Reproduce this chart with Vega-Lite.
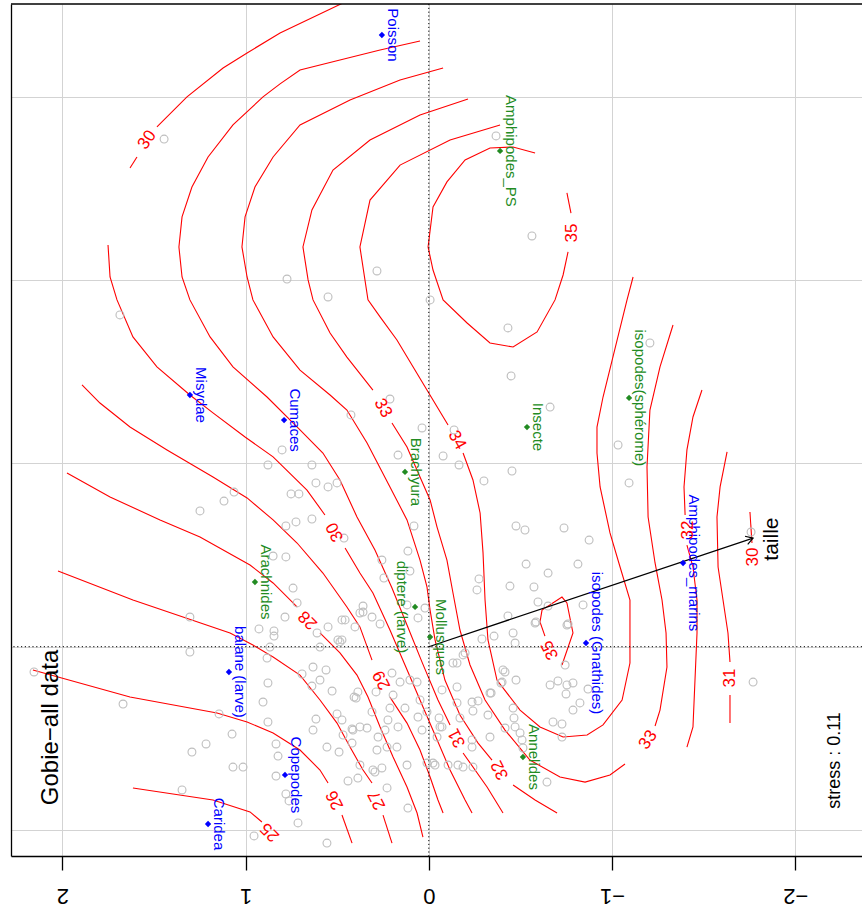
{
"$schema":"https://vega.github.io/schema/vega-lite/v6.json",
"width":851,"height":852,
"autosize":{"type":"none"},
"padding":{"left":11,"top":4,"right":0,"bottom":61},
"background":"white",
"config":{"view":{"stroke":null},"font":"Liberation Sans",
 "axisX":{"grid":true,"gridColor":"#d3d3d3","gridWidth":1,"domain":true,"domainColor":"#000000","domainWidth":1.3,"ticks":true,"tickSize":14,"tickColor":"#000000","tickWidth":1.3,"labelAngle":180,"labelAlign":"center","labelBaseline":"alphabetic","labelPadding":18,"labelFontSize":22,"labelFont":"Liberation Sans","labelColor":"#000000","labelFlush":false,"labelOverlap":false,"tickCount":5},
 "axisY":{"grid":true,"gridColor":"#d3d3d3","gridWidth":1,"domain":true,"domainColor":"#000000","domainWidth":1.3,"ticks":false,"labels":false,"tickCount":5}},
"datasets":{
"isolignes":[
{"niveau":25,"s":"25a","i":0,"x":1.615,"y":-0.771},{"niveau":25,"s":"25a","i":1,"x":1.178,"y":-0.837},{"niveau":25,"s":"25a","i":2,"x":0.976,"y":-0.902},{"niveau":25,"s":"25a","i":3,"x":0.911,"y":-0.957},
{"niveau":26,"s":"26a","i":0,"x":2.161,"y":-0.127},{"niveau":26,"s":"26a","i":1,"x":1.631,"y":-0.275},{"niveau":26,"s":"26a","i":2,"x":1.156,"y":-0.362},{"niveau":26,"s":"26a","i":3,"x":0.992,"y":-0.411},{"niveau":26,"s":"26a","i":4,"x":0.850,"y":-0.471},{"niveau":26,"s":"26a","i":5,"x":0.703,"y":-0.564},{"niveau":26,"s":"26a","i":6,"x":0.594,"y":-0.673},{"niveau":26,"s":"26a","i":7,"x":0.550,"y":-0.744},
{"niveau":26,"s":"26b","i":0,"x":0.474,"y":-0.919},{"niveau":26,"s":"26b","i":1,"x":0.419,"y":-1.072},
{"niveau":27,"s":"27a","i":0,"x":2.024,"y":0.413},{"niveau":27,"s":"27a","i":1,"x":1.615,"y":0.255},{"niveau":27,"s":"27a","i":2,"x":1.085,"y":0.075},{"niveau":27,"s":"27a","i":3,"x":0.960,"y":0.009},{"niveau":27,"s":"27a","i":4,"x":0.850,"y":-0.056},{"niveau":27,"s":"27a","i":5,"x":0.703,"y":-0.155},{"niveau":27,"s":"27a","i":6,"x":0.594,"y":-0.291},{"niveau":27,"s":"27a","i":7,"x":0.501,"y":-0.417},{"niveau":27,"s":"27a","i":8,"x":0.430,"y":-0.548},{"niveau":27,"s":"27a","i":9,"x":0.359,"y":-0.673},{"niveau":27,"s":"27a","i":10,"x":0.310,"y":-0.744},
{"niveau":27,"s":"27b","i":0,"x":0.250,"y":-0.919},{"niveau":27,"s":"27b","i":1,"x":0.201,"y":-1.072},
{"niveau":28,"s":"28a","i":0,"x":1.975,"y":0.948},{"niveau":28,"s":"28a","i":1,"x":1.740,"y":0.817},{"niveau":28,"s":"28a","i":2,"x":1.467,"y":0.692},{"niveau":28,"s":"28a","i":3,"x":1.249,"y":0.599},{"niveau":28,"s":"28a","i":4,"x":0.976,"y":0.446},{"niveau":28,"s":"28a","i":5,"x":0.850,"y":0.348},{"niveau":28,"s":"28a","i":6,"x":0.719,"y":0.217},
{"niveau":28,"s":"28b","i":0,"x":0.594,"y":0.075},{"niveau":28,"s":"28b","i":1,"x":0.485,"y":-0.034},{"niveau":28,"s":"28b","i":2,"x":0.392,"y":-0.155},{"niveau":28,"s":"28b","i":3,"x":0.332,"y":-0.275},{"niveau":28,"s":"28b","i":4,"x":0.266,"y":-0.438},{"niveau":28,"s":"28b","i":5,"x":0.195,"y":-0.602},{"niveau":28,"s":"28b","i":6,"x":0.119,"y":-0.766},{"niveau":28,"s":"28b","i":7,"x":0.064,"y":-0.908},{"niveau":28,"s":"28b","i":8,"x":0.032,"y":-1.039},
{"niveau":29,"s":"29a","i":0,"x":1.893,"y":1.429},{"niveau":29,"s":"29a","i":1,"x":1.795,"y":1.330},{"niveau":29,"s":"29a","i":2,"x":1.631,"y":1.199},{"niveau":29,"s":"29a","i":3,"x":1.429,"y":1.074},{"niveau":29,"s":"29a","i":4,"x":1.178,"y":0.926},{"niveau":29,"s":"29a","i":5,"x":0.992,"y":0.812},{"niveau":29,"s":"29a","i":6,"x":0.850,"y":0.692},{"niveau":29,"s":"29a","i":7,"x":0.719,"y":0.566},{"niveau":29,"s":"29a","i":8,"x":0.578,"y":0.402},{"niveau":29,"s":"29a","i":9,"x":0.447,"y":0.217},{"niveau":29,"s":"29a","i":10,"x":0.376,"y":0.108},{"niveau":29,"s":"29a","i":11,"x":0.310,"y":-0.073},
{"niveau":29,"s":"29b","i":0,"x":0.212,"y":-0.275},{"niveau":29,"s":"29b","i":1,"x":0.119,"y":-0.417},{"niveau":29,"s":"29b","i":2,"x":0.048,"y":-0.564},{"niveau":29,"s":"29b","i":3,"x":-0.007,"y":-0.711},{"niveau":29,"s":"29b","i":4,"x":-0.050,"y":-0.837},{"niveau":29,"s":"29b","i":5,"x":-0.078,"y":-0.908},
{"niveau":30,"s":"30a","i":0,"x":0.468,"y":3.514},{"niveau":30,"s":"30a","i":1,"x":0.812,"y":3.350},{"niveau":30,"s":"30a","i":2,"x":0.992,"y":3.241},{"niveau":30,"s":"30a","i":3,"x":1.123,"y":3.159},{"niveau":30,"s":"30a","i":4,"x":1.320,"y":3.001},{"niveau":30,"s":"30a","i":5,"x":1.484,"y":2.837},
{"niveau":30,"s":"30b","i":0,"x":1.593,"y":2.673},{"niveau":30,"s":"30b","i":1,"x":1.631,"y":2.613},
{"niveau":30,"s":"30c","i":0,"x":1.751,"y":2.193},{"niveau":30,"s":"30c","i":1,"x":1.740,"y":2.018},{"niveau":30,"s":"30c","i":2,"x":1.702,"y":1.893},{"niveau":30,"s":"30c","i":3,"x":1.615,"y":1.691},{"niveau":30,"s":"30c","i":4,"x":1.484,"y":1.527},{"niveau":30,"s":"30c","i":5,"x":1.304,"y":1.374},{"niveau":30,"s":"30c","i":6,"x":1.178,"y":1.276},{"niveau":30,"s":"30c","i":7,"x":1.003,"y":1.145},{"niveau":30,"s":"30c","i":8,"x":0.850,"y":1.036},{"niveau":30,"s":"30c","i":9,"x":0.665,"y":0.855},{"niveau":30,"s":"30c","i":10,"x":0.567,"y":0.719},
{"niveau":30,"s":"30d","i":0,"x":0.457,"y":0.539},{"niveau":30,"s":"30d","i":1,"x":0.376,"y":0.402},{"niveau":30,"s":"30d","i":2,"x":0.305,"y":0.293},{"niveau":30,"s":"30d","i":3,"x":0.212,"y":0.091},{"niveau":30,"s":"30d","i":4,"x":0.130,"y":-0.100},{"niveau":30,"s":"30d","i":5,"x":0.048,"y":-0.291},{"niveau":30,"s":"30d","i":6,"x":-0.034,"y":-0.482},{"niveau":30,"s":"30d","i":7,"x":-0.116,"y":-0.673},{"niveau":30,"s":"30d","i":8,"x":-0.198,"y":-0.837},{"niveau":30,"s":"30d","i":9,"x":-0.236,"y":-0.908},
{"niveau":30,"s":"30e","i":0,"x":-1.753,"y":0.735},{"niveau":30,"s":"30e","i":1,"x":-1.764,"y":0.566},
{"niveau":31,"s":"31a","i":0,"x":0.048,"y":3.306},{"niveau":31,"s":"31a","i":1,"x":0.266,"y":3.257},{"niveau":31,"s":"31a","i":2,"x":0.485,"y":3.203},{"niveau":31,"s":"31a","i":3,"x":0.703,"y":3.148},{"niveau":31,"s":"31a","i":4,"x":0.812,"y":3.072},{"niveau":31,"s":"31a","i":5,"x":0.905,"y":3.001},{"niveau":31,"s":"31a","i":6,"x":1.069,"y":2.848},{"niveau":31,"s":"31a","i":7,"x":1.205,"y":2.673},{"niveau":31,"s":"31a","i":8,"x":1.293,"y":2.509},{"niveau":31,"s":"31a","i":9,"x":1.347,"y":2.346},{"niveau":31,"s":"31a","i":10,"x":1.364,"y":2.182},{"niveau":31,"s":"31a","i":11,"x":1.347,"y":2.018},{"niveau":31,"s":"31a","i":12,"x":1.304,"y":1.893},{"niveau":31,"s":"31a","i":13,"x":1.194,"y":1.691},{"niveau":31,"s":"31a","i":14,"x":1.069,"y":1.527},{"niveau":31,"s":"31a","i":15,"x":0.883,"y":1.363},{"niveau":31,"s":"31a","i":16,"x":0.703,"y":1.183},{"niveau":31,"s":"31a","i":17,"x":0.578,"y":1.057},{"niveau":31,"s":"31a","i":18,"x":0.485,"y":0.910},{"niveau":31,"s":"31a","i":19,"x":0.392,"y":0.708},{"niveau":31,"s":"31a","i":20,"x":0.294,"y":0.528},{"niveau":31,"s":"31a","i":21,"x":0.201,"y":0.320},{"niveau":31,"s":"31a","i":22,"x":0.119,"y":0.118},{"niveau":31,"s":"31a","i":23,"x":0.037,"y":-0.084},{"niveau":31,"s":"31a","i":24,"x":-0.050,"y":-0.291},{"niveau":31,"s":"31a","i":25,"x":-0.116,"y":-0.427},
{"niveau":31,"s":"31b","i":0,"x":-0.187,"y":-0.580},{"niveau":31,"s":"31b","i":1,"x":-0.318,"y":-0.766},{"niveau":31,"s":"31b","i":2,"x":-0.405,"y":-0.908},
{"niveau":31,"s":"31c","i":0,"x":-1.628,"y":1.063},{"niveau":31,"s":"31c","i":1,"x":-1.590,"y":0.872},{"niveau":31,"s":"31c","i":2,"x":-1.573,"y":0.708},{"niveau":31,"s":"31c","i":3,"x":-1.579,"y":0.435},{"niveau":31,"s":"31c","i":4,"x":-1.606,"y":0.255},{"niveau":31,"s":"31c","i":5,"x":-1.633,"y":0.075},{"niveau":31,"s":"31c","i":6,"x":-1.644,"y":-0.084},
{"niveau":31,"s":"31d","i":0,"x":-1.644,"y":-0.264},{"niveau":31,"s":"31d","i":1,"x":-1.644,"y":-0.417},
{"niveau":32,"s":"32a","i":0,"x":-0.078,"y":3.159},{"niveau":32,"s":"32a","i":1,"x":0.157,"y":3.093},{"niveau":32,"s":"32a","i":2,"x":0.430,"y":2.984},{"niveau":32,"s":"32a","i":3,"x":0.703,"y":2.848},{"niveau":32,"s":"32a","i":4,"x":0.850,"y":2.673},{"niveau":32,"s":"32a","i":5,"x":0.949,"y":2.509},{"niveau":32,"s":"32a","i":6,"x":1.003,"y":2.346},{"niveau":32,"s":"32a","i":7,"x":1.020,"y":2.182},{"niveau":32,"s":"32a","i":8,"x":0.992,"y":2.018},{"niveau":32,"s":"32a","i":9,"x":0.960,"y":1.893},{"niveau":32,"s":"32a","i":10,"x":0.850,"y":1.691},{"niveau":32,"s":"32a","i":11,"x":0.703,"y":1.510},{"niveau":32,"s":"32a","i":12,"x":0.539,"y":1.374},{"niveau":32,"s":"32a","i":13,"x":0.447,"y":1.292},{"niveau":32,"s":"32a","i":14,"x":0.337,"y":1.112},{"niveau":32,"s":"32a","i":15,"x":0.212,"y":0.872},{"niveau":32,"s":"32a","i":16,"x":0.119,"y":0.692},{"niveau":32,"s":"32a","i":17,"x":0.048,"y":0.473},{"niveau":32,"s":"32a","i":18,"x":0.010,"y":0.326},{"niveau":32,"s":"32a","i":19,"x":-0.007,"y":0.200},{"niveau":32,"s":"32a","i":20,"x":-0.034,"y":0.037},{"niveau":32,"s":"32a","i":21,"x":-0.088,"y":-0.182},{"niveau":32,"s":"32a","i":22,"x":-0.170,"y":-0.373},{"niveau":32,"s":"32a","i":23,"x":-0.269,"y":-0.526},{"niveau":32,"s":"32a","i":24,"x":-0.345,"y":-0.619},
{"niveau":32,"s":"32b","i":0,"x":-0.460,"y":-0.755},{"niveau":32,"s":"32b","i":1,"x":-0.580,"y":-0.837},{"niveau":32,"s":"32b","i":2,"x":-0.700,"y":-0.908},
{"niveau":32,"s":"32c","i":0,"x":-1.491,"y":1.401},{"niveau":32,"s":"32c","i":1,"x":-1.442,"y":1.254},{"niveau":32,"s":"32c","i":2,"x":-1.409,"y":1.074},{"niveau":32,"s":"32c","i":3,"x":-1.393,"y":0.872},{"niveau":32,"s":"32c","i":4,"x":-1.399,"y":0.719},
{"niveau":32,"s":"32d","i":0,"x":-1.409,"y":0.555},{"niveau":32,"s":"32d","i":1,"x":-1.442,"y":0.435},{"niveau":32,"s":"32d","i":2,"x":-1.464,"y":0.255},{"niveau":32,"s":"32d","i":3,"x":-1.464,"y":0.075},{"niveau":32,"s":"32d","i":4,"x":-1.442,"y":-0.438},{"niveau":32,"s":"32d","i":5,"x":-1.409,"y":-0.548},
{"niveau":33,"s":"33a","i":0,"x":-0.214,"y":2.990},{"niveau":33,"s":"33a","i":1,"x":0.048,"y":2.902},{"niveau":33,"s":"33a","i":2,"x":0.321,"y":2.766},{"niveau":33,"s":"33a","i":3,"x":0.523,"y":2.602},{"niveau":33,"s":"33a","i":4,"x":0.638,"y":2.384},{"niveau":33,"s":"33a","i":5,"x":0.687,"y":2.182},{"niveau":33,"s":"33a","i":6,"x":0.659,"y":2.002},{"niveau":33,"s":"33a","i":7,"x":0.632,"y":1.893},{"niveau":33,"s":"33a","i":8,"x":0.539,"y":1.712},{"niveau":33,"s":"33a","i":9,"x":0.447,"y":1.581},{"niveau":33,"s":"33a","i":10,"x":0.305,"y":1.401},
{"niveau":33,"s":"33b","i":0,"x":0.201,"y":1.221},{"niveau":33,"s":"33b","i":1,"x":0.119,"y":1.090},{"niveau":33,"s":"33b","i":2,"x":0.048,"y":0.926},{"niveau":33,"s":"33b","i":3,"x":-0.007,"y":0.801},{"niveau":33,"s":"33b","i":4,"x":-0.045,"y":0.653},{"niveau":33,"s":"33b","i":5,"x":-0.099,"y":0.473},{"niveau":33,"s":"33b","i":6,"x":-0.132,"y":0.293},{"niveau":33,"s":"33b","i":7,"x":-0.170,"y":0.091},{"niveau":33,"s":"33b","i":8,"x":-0.225,"y":-0.100},{"niveau":33,"s":"33b","i":9,"x":-0.307,"y":-0.291},{"niveau":33,"s":"33b","i":10,"x":-0.416,"y":-0.455},{"niveau":33,"s":"33b","i":11,"x":-0.552,"y":-0.619},{"niveau":33,"s":"33b","i":12,"x":-0.716,"y":-0.711},{"niveau":33,"s":"33b","i":13,"x":-0.853,"y":-0.739},{"niveau":33,"s":"33b","i":14,"x":-0.989,"y":-0.700},{"niveau":33,"s":"33b","i":15,"x":-1.071,"y":-0.640},
{"niveau":33,"s":"33c","i":0,"x":-1.235,"y":-0.433},{"niveau":33,"s":"33c","i":1,"x":-1.262,"y":-0.346},{"niveau":33,"s":"33c","i":2,"x":-1.300,"y":-0.111},{"niveau":33,"s":"33c","i":3,"x":-1.295,"y":0.075},{"niveau":33,"s":"33c","i":4,"x":-1.273,"y":0.255},{"niveau":33,"s":"33c","i":5,"x":-1.235,"y":0.457},{"niveau":33,"s":"33c","i":6,"x":-1.197,"y":0.708},{"niveau":33,"s":"33c","i":7,"x":-1.191,"y":0.981},{"niveau":33,"s":"33c","i":8,"x":-1.207,"y":1.292},{"niveau":33,"s":"33c","i":9,"x":-1.262,"y":1.527},{"niveau":33,"s":"33c","i":10,"x":-1.333,"y":1.756},
{"niveau":34,"s":"34a","i":0,"x":-0.389,"y":2.848},{"niveau":34,"s":"34a","i":1,"x":-0.116,"y":2.766},{"niveau":34,"s":"34a","i":2,"x":0.157,"y":2.629},{"niveau":34,"s":"34a","i":3,"x":0.321,"y":2.438},{"niveau":34,"s":"34a","i":4,"x":0.376,"y":2.182},{"niveau":34,"s":"34a","i":5,"x":0.332,"y":1.893},{"niveau":34,"s":"34a","i":6,"x":0.266,"y":1.800},{"niveau":34,"s":"34a","i":7,"x":0.174,"y":1.674},{"niveau":34,"s":"34a","i":8,"x":0.010,"y":1.401},{"niveau":34,"s":"34a","i":9,"x":-0.105,"y":1.210},
{"niveau":34,"s":"34b","i":0,"x":-0.187,"y":1.057},{"niveau":34,"s":"34b","i":1,"x":-0.241,"y":0.910},{"niveau":34,"s":"34b","i":2,"x":-0.280,"y":0.730},{"niveau":34,"s":"34b","i":3,"x":-0.296,"y":0.512},{"niveau":34,"s":"34b","i":4,"x":-0.307,"y":0.255},{"niveau":34,"s":"34b","i":5,"x":-0.323,"y":0.037},{"niveau":34,"s":"34b","i":6,"x":-0.372,"y":-0.182},{"niveau":34,"s":"34b","i":7,"x":-0.498,"y":-0.346},{"niveau":34,"s":"34b","i":8,"x":-0.607,"y":-0.438},{"niveau":34,"s":"34b","i":9,"x":-0.733,"y":-0.493},{"niveau":34,"s":"34b","i":10,"x":-0.864,"y":-0.482},{"niveau":34,"s":"34b","i":11,"x":-0.951,"y":-0.427},{"niveau":34,"s":"34b","i":12,"x":-1.055,"y":-0.291},{"niveau":34,"s":"34b","i":13,"x":-1.098,"y":-0.089},{"niveau":34,"s":"34b","i":14,"x":-1.098,"y":0.255},{"niveau":34,"s":"34b","i":15,"x":-1.044,"y":0.435},{"niveau":34,"s":"34b","i":16,"x":-0.989,"y":0.621},{"niveau":34,"s":"34b","i":17,"x":-0.935,"y":0.872},{"niveau":34,"s":"34b","i":18,"x":-0.918,"y":1.057},{"niveau":34,"s":"34b","i":19,"x":-0.918,"y":1.199},{"niveau":34,"s":"34b","i":20,"x":-0.951,"y":1.363},{"niveau":34,"s":"34b","i":21,"x":-1.082,"y":1.893},{"niveau":34,"s":"34b","i":22,"x":-1.115,"y":2.018},
{"niveau":35,"s":"35a","i":0,"x":-0.580,"y":2.695},{"niveau":35,"s":"35a","i":1,"x":-0.460,"y":2.728},{"niveau":35,"s":"35a","i":2,"x":-0.334,"y":2.722},{"niveau":35,"s":"35a","i":3,"x":-0.198,"y":2.657},{"niveau":35,"s":"35a","i":4,"x":-0.099,"y":2.537},{"niveau":35,"s":"35a","i":5,"x":-0.023,"y":2.400},{"niveau":35,"s":"35a","i":6,"x":0.004,"y":2.182},{"niveau":35,"s":"35a","i":7,"x":-0.023,"y":2.056},{"niveau":35,"s":"35a","i":8,"x":-0.078,"y":1.893},{"niveau":35,"s":"35a","i":9,"x":-0.209,"y":1.767},{"niveau":35,"s":"35a","i":10,"x":-0.334,"y":1.658},{"niveau":35,"s":"35a","i":11,"x":-0.460,"y":1.636},{"niveau":35,"s":"35a","i":12,"x":-0.591,"y":1.718},{"niveau":35,"s":"35a","i":13,"x":-0.689,"y":1.893},{"niveau":35,"s":"35a","i":14,"x":-0.733,"y":2.029},{"niveau":35,"s":"35a","i":15,"x":-0.760,"y":2.155},
{"niveau":35,"s":"35b","i":0,"x":-0.776,"y":2.367},{"niveau":35,"s":"35b","i":1,"x":-0.754,"y":2.477},
{"niveau":35,"s":"35c","i":0,"x":-0.634,"y":0.058},{"niveau":35,"s":"35c","i":1,"x":-0.607,"y":0.135},{"niveau":35,"s":"35c","i":2,"x":-0.618,"y":0.200},{"niveau":35,"s":"35c","i":3,"x":-0.727,"y":0.271},{"niveau":35,"s":"35c","i":4,"x":-0.754,"y":0.239},{"niveau":35,"s":"35c","i":5,"x":-0.787,"y":0.075},{"niveau":35,"s":"35c","i":6,"x":-0.727,"y":-0.100}
],
"etiquettes":[
{"niveau":30,"x":1.538,"y":2.766},{"niveau":35,"x":-0.782,"y":2.258},{"niveau":33,"x":0.250,"y":1.303},{"niveau":34,"x":-0.154,"y":1.128},{"niveau":30,"x":0.512,"y":0.626},{"niveau":28,"x":0.659,"y":0.146},{"niveau":29,"x":0.256,"y":-0.182},{"niveau":31,"x":-0.154,"y":-0.498},{"niveau":32,"x":-0.389,"y":-0.673},{"niveau":26,"x":0.512,"y":-0.837},{"niveau":27,"x":0.283,"y":-0.837},{"niveau":25,"x":0.867,"y":-1.012},{"niveau":35,"x":-0.662,"y":-0.018},{"niveau":32,"x":-1.415,"y":0.637},{"niveau":30,"x":-1.770,"y":0.490},{"niveau":31,"x":-1.644,"y":-0.171},{"niveau":33,"x":-1.197,"y":-0.509}
],
"especes":[
{"nom":"Poisson","groupe":"A","x":0.256,"y":3.339},{"nom":"Misydae","groupe":"A","x":1.304,"y":1.374},{"nom":"Cumaces","groupe":"A","x":0.790,"y":1.237},{"nom":"balane (larve)","groupe":"A","x":1.091,"y":-0.138},{"nom":"Copepodes","groupe":"A","x":0.785,"y":-0.700},{"nom":"Caridea","groupe":"A","x":1.205,"y":-0.968},{"nom":"isopodes (Gnathides)","groupe":"A","x":-0.858,"y":0.020},{"nom":"Amphipodes_marins","groupe":"A","x":-1.388,"y":0.457},
{"nom":"Amphipodes_PS","groupe":"B","x":-0.389,"y":2.706},{"nom":"Arachnides","groupe":"B","x":0.949,"y":0.353},{"nom":"diptere (larve)","groupe":"B","x":0.075,"y":0.217},{"nom":"Mollusques","groupe":"B","x":-0.007,"y":0.053},{"nom":"Brachyura","groupe":"B","x":0.130,"y":0.954},{"nom":"Insecte","groupe":"B","x":-0.536,"y":1.199},{"nom":"isopodes(sphérome)","groupe":"B","x":-1.093,"y":1.358},{"nom":"Annelides","groupe":"B","x":-0.514,"y":-0.602}
],
"sites":[
{"x":1.445,"y":2.771},{"x":0.774,"y":2.007},{"x":-0.367,"y":2.788},{"x":-0.563,"y":2.242},{"x":0.283,"y":2.051},{"x":0.550,"y":1.909},{"x":-0.007,"y":1.893},{"x":1.686,"y":1.811},{"x":-0.432,"y":1.740},{"x":-0.449,"y":1.478},{"x":0.212,"y":1.352},{"x":0.425,"y":1.265},{"x":0.037,"y":1.194},{"x":-0.662,"y":1.308},{"x":-0.138,"y":1.183},{"x":0.801,"y":1.074},{"x":0.878,"y":0.992},{"x":1.063,"y":0.844},{"x":1.118,"y":0.795},{"x":1.249,"y":0.741},{"x":0.752,"y":0.834},{"x":0.709,"y":0.834},{"x":0.780,"y":0.659},{"x":0.725,"y":0.681},{"x":0.638,"y":0.697},{"x":0.850,"y":0.495},{"x":0.780,"y":0.490},{"x":0.741,"y":0.320},{"x":0.168,"y":1.046},{"x":-0.078,"y":1.041},{"x":-0.165,"y":0.992},{"x":0.638,"y":0.992},{"x":-0.454,"y":0.959},{"x":-0.301,"y":0.905},{"x":0.616,"y":0.894},{"x":0.550,"y":0.872},{"x":0.501,"y":0.894},{"x":0.081,"y":0.659},{"x":-0.476,"y":0.659},{"x":-0.525,"y":0.637},{"x":-0.738,"y":0.648},{"x":0.463,"y":0.593},{"x":0.114,"y":0.522},{"x":0.256,"y":0.473},{"x":-0.531,"y":0.451},{"x":-0.651,"y":0.402},{"x":-0.814,"y":0.451},{"x":0.245,"y":0.375},{"x":0.103,"y":0.413},{"x":-0.274,"y":0.370},{"x":-0.263,"y":0.310},{"x":-0.443,"y":0.331},{"x":-0.574,"y":0.326},{"x":-1.207,"y":1.658},{"x":-1.033,"y":1.101},{"x":-1.093,"y":0.894},{"x":-0.875,"y":0.582},{"x":-1.759,"y":0.626},{"x":0.719,"y":0.239},{"x":0.785,"y":0.162},{"x":0.927,"y":0.097},{"x":0.845,"y":0.086},{"x":0.845,"y":0.058},{"x":1.304,"y":0.162},{"x":0.550,"y":0.108},{"x":0.474,"y":0.146},{"x":0.457,"y":0.146},{"x":0.403,"y":0.108},{"x":0.610,"y":0.075},{"x":0.496,"y":0.037},{"x":0.474,"y":0.037},{"x":0.594,"y":-0.002},{"x":1.304,"y":-0.029},{"x":0.867,"y":-0.002},{"x":0.376,"y":0.184},{"x":2.155,"y":-0.138},{"x":1.669,"y":-0.313},{"x":1.145,"y":-0.367},{"x":1.216,"y":-0.531},{"x":1.293,"y":-0.575},{"x":1.074,"y":-0.477},{"x":1.069,"y":-0.657},{"x":1.014,"y":-0.657},{"x":1.347,"y":-0.782},{"x":0.954,"y":-1.033},{"x":0.556,"y":-1.072},{"x":0.883,"y":-0.062},{"x":0.692,"y":-0.149},{"x":0.632,"y":-0.111},{"x":0.561,"y":-0.127},{"x":0.594,"y":-0.182},{"x":0.638,"y":-0.215},{"x":0.528,"y":-0.242},{"x":0.408,"y":-0.275},{"x":0.878,"y":-0.198},{"x":0.905,"y":-0.302},{"x":0.878,"y":-0.411},{"x":0.616,"y":-0.395},{"x":0.632,"y":-0.455},{"x":0.501,"y":-0.367},{"x":0.468,"y":-0.482},{"x":0.419,"y":-0.449},{"x":0.834,"y":-0.531},{"x":0.823,"y":-0.597},{"x":0.556,"y":-0.548},{"x":0.490,"y":-0.575},{"x":0.834,"y":-0.706},{"x":0.441,"y":-0.733},{"x":0.387,"y":-0.717},{"x":0.780,"y":-0.804},{"x":0.763,"y":-0.842},{"x":0.714,"y":-0.962},{"x":0.359,"y":0.222},{"x":0.359,"y":0.189},{"x":0.310,"y":0.162},{"x":0.266,"y":0.124},{"x":0.119,"y":0.228},{"x":0.021,"y":0.211},{"x":0.059,"y":0.157},{"x":-0.596,"y":0.244},{"x":-0.842,"y":0.228},{"x":-0.585,"y":0.135},{"x":-0.760,"y":0.124},{"x":-0.460,"y":0.075},{"x":-0.356,"y":0.058},{"x":-0.290,"y":0.042},{"x":-0.154,"y":-0.089},{"x":-0.187,"y":-0.045},{"x":-0.416,"y":-0.138},{"x":-0.476,"y":-0.182},{"x":-0.394,"y":-0.198},{"x":-0.340,"y":-0.253},{"x":-0.269,"y":-0.296},{"x":-0.241,"y":-0.351},{"x":-0.154,"y":-0.307},{"x":-0.170,"y":-0.389},{"x":-0.056,"y":-0.389},{"x":-0.460,"y":-0.335},{"x":-0.465,"y":-0.389},{"x":-0.416,"y":-0.444},{"x":-0.662,"y":-0.209},{"x":-0.705,"y":-0.187},{"x":-0.754,"y":-0.209},{"x":-0.787,"y":-0.198},{"x":-0.749,"y":-0.258},{"x":-0.869,"y":-0.231},{"x":-0.825,"y":-0.307},{"x":-0.787,"y":-0.346},{"x":-0.678,"y":-0.411},{"x":-0.727,"y":-0.422},{"x":-0.471,"y":-0.438},{"x":-0.498,"y":-0.471},{"x":-0.509,"y":-0.509},{"x":-0.514,"y":-0.553},{"x":0.414,"y":-0.455},{"x":0.337,"y":-0.444},{"x":0.239,"y":-0.455},{"x":0.223,"y":-0.400},{"x":0.037,"y":-0.455},{"x":-0.045,"y":-0.493},{"x":-0.072,"y":-0.438},{"x":-0.236,"y":-0.509},{"x":0.228,"y":-0.548},{"x":0.277,"y":-0.493},{"x":0.010,"y":-0.635},{"x":-0.034,"y":-0.646},{"x":-0.105,"y":-0.646},{"x":-0.159,"y":-0.646},{"x":-0.187,"y":-0.657},{"x":-0.241,"y":-0.657},{"x":0.119,"y":-0.646},{"x":0.256,"y":-0.662},{"x":0.305,"y":-0.673},{"x":0.103,"y":-0.182},{"x":0.048,"y":-0.291},{"x":0.130,"y":-0.335},{"x":0.212,"y":-0.335},{"x":0.310,"y":-0.356},{"x":0.195,"y":-0.264},{"x":0.288,"y":-0.247},{"x":0.397,"y":-0.280},{"x":0.387,"y":-0.247},{"x":0.157,"y":-0.193},{"x":0.201,"y":-0.144},{"x":0.064,"y":-0.193},{"x":-0.072,"y":-0.236},{"x":-0.154,"y":-0.220},{"x":-0.236,"y":-0.302},{"x":-0.405,"y":-0.127},{"x":-0.432,"y":0.168},{"x":-0.651,"y":0.222},{"x":-0.580,"y":0.129},{"x":-0.754,"y":0.118},{"x":-0.471,"y":0.020},{"x":0.485,"y":0.026},{"x":-0.132,"y":-0.089},{"x":-0.198,"y":-0.034},{"x":-0.334,"y":-0.253},{"x":-0.400,"y":-0.193},{"x":-0.323,"y":-0.373},{"x":0.010,"y":-0.356},{"x":-0.061,"y":-0.438},{"x":0.059,"y":-0.384},{"x":0.168,"y":-0.438},{"x":0.376,"y":-0.438},{"x":0.474,"y":-0.400},{"x":0.419,"y":-0.526},{"x":0.376,"y":-0.646},{"x":0.294,"y":-0.684},{"x":0.283,"y":-0.564},{"x":0.174,"y":-0.548},{"x":-0.236,"y":-0.548},{"x":-0.334,"y":-0.493},{"x":-0.645,"y":-0.739},{"x":0.114,"y":-0.881},{"x":0.228,"y":-0.771},{"x":-0.744,"y":-0.100},{"x":-0.727,"y":-0.493},{"x":-1.770,"y":-0.193},{"x":-0.023,"y":-0.635}
],
"vecteur":[{"variable":"taille","x0":0,"y0":0,"x":-1.770,"y":0.593}],
"notes":[{"texte":"Gobie−all data","x":2.024,"y":-0.441},{"texte":"stress : 0.11","x":-2.245,"y":-0.621}],
"cadre":[{"haut":3.5082,"zero":0}]
},
"layer":[
{"data":{"name":"isolignes"},
 "mark":{"type":"line","color":"#FF0000","strokeWidth":1.1,"clip":true},
 "encoding":{
  "x":{"field":"x","type":"quantitative","title":null,"scale":{"domain":[-2.3646,2.2806],"reverse":true,"nice":false,"zero":false},"axis":{"values":[-2,-1,0,1,2]}},
  "y":{"field":"y","type":"quantitative","title":null,"scale":{"domain":[-1.1425,3.5082],"nice":false,"zero":false},"axis":{"values":[-1,0,1,2,3]}},
  "detail":{"field":"s","type":"nominal"},
  "order":{"field":"i","type":"quantitative"}
 }},
{"data":{"name":"cadre"},
 "mark":{"type":"rule","color":"#000000","strokeWidth":1.3},
 "encoding":{"y":{"field":"haut","type":"quantitative","title":null,"scale":{"domain":[-1.1425,3.5082],"nice":false,"zero":false}}}},
{"data":{"name":"cadre"},
 "mark":{"type":"rule","color":"#000000","strokeWidth":1,"strokeDash":[1.2,2.6]},
 "encoding":{"x":{"field":"zero","type":"quantitative","title":null,"scale":{"domain":[-2.3646,2.2806],"reverse":true,"nice":false,"zero":false}}}},
{"data":{"name":"cadre"},
 "mark":{"type":"rule","color":"#000000","strokeWidth":1,"strokeDash":[1.2,2.6]},
 "encoding":{"y":{"field":"zero","type":"quantitative","title":null,"scale":{"domain":[-1.1425,3.5082],"nice":false,"zero":false}}}},
{"data":{"name":"sites"},
 "mark":{"type":"point","shape":"circle","filled":false,"stroke":"#BEBEBE","strokeWidth":1.1,"size":62,"opacity":1},
 "encoding":{
  "x":{"field":"x","type":"quantitative","title":null,"scale":{"domain":[-2.3646,2.2806],"reverse":true,"nice":false,"zero":false}},
  "y":{"field":"y","type":"quantitative","title":null,"scale":{"domain":[-1.1425,3.5082],"nice":false,"zero":false}}}},
{"data":{"name":"vecteur"},
 "mark":{"type":"rule","color":"#000000","strokeWidth":1.2},
 "encoding":{
  "x":{"field":"x0","type":"quantitative","title":null,"scale":{"domain":[-2.3646,2.2806],"reverse":true,"nice":false,"zero":false}},
  "y":{"field":"y0","type":"quantitative","title":null,"scale":{"domain":[-1.1425,3.5082],"nice":false,"zero":false}},
  "x2":{"field":"x"},"y2":{"field":"y"}}},
{"data":{"name":"vecteur"},
 "mark":{"type":"point","shape":"M -1 -0.6 L 0 0 L -1 0.6","filled":false,"stroke":"#000000","strokeWidth":1.2,"size":200,"angle":341.5,"opacity":1},
 "encoding":{
  "x":{"field":"x","type":"quantitative","title":null,"scale":{"domain":[-2.3646,2.2806],"reverse":true,"nice":false,"zero":false}},
  "y":{"field":"y","type":"quantitative","title":null,"scale":{"domain":[-1.1425,3.5082],"nice":false,"zero":false}}}},
{"data":{"name":"vecteur"},
 "mark":{"type":"text","angle":270,"align":"center","baseline":"alphabetic","dx":-1,"dy":25,"fontSize":21,"font":"Liberation Sans","color":"#000000"},
 "encoding":{
  "x":{"field":"x","type":"quantitative","title":null,"scale":{"domain":[-2.3646,2.2806],"reverse":true,"nice":false,"zero":false}},
  "y":{"field":"y","type":"quantitative","title":null,"scale":{"domain":[-1.1425,3.5082],"nice":false,"zero":false}},
  "text":{"field":"variable","type":"nominal"}}},
{"data":{"name":"especes"},
 "mark":{"type":"point","shape":"diamond","filled":true,"size":40,"opacity":1},
 "encoding":{
  "x":{"field":"x","type":"quantitative","title":null,"scale":{"domain":[-2.3646,2.2806],"reverse":true,"nice":false,"zero":false}},
  "y":{"field":"y","type":"quantitative","title":null,"scale":{"domain":[-1.1425,3.5082],"nice":false,"zero":false}},
  "color":{"field":"groupe","type":"nominal","scale":{"domain":["A","B"],"range":["#0000FF","#228B22"]},"legend":null}}},
{"data":{"name":"especes"},
 "transform":[{"filter":"datum.nom != 'diptere (larve)'"}],
 "mark":{"type":"text","angle":90,"align":"center","baseline":"bottom","dy":-3,"fontSize":15,"font":"Liberation Sans"},
 "encoding":{
  "x":{"field":"x","type":"quantitative","title":null,"scale":{"domain":[-2.3646,2.2806],"reverse":true,"nice":false,"zero":false}},
  "y":{"field":"y","type":"quantitative","title":null,"scale":{"domain":[-1.1425,3.5082],"nice":false,"zero":false}},
  "text":{"field":"nom","type":"nominal"},
  "color":{"field":"groupe","type":"nominal","scale":{"domain":["A","B"],"range":["#0000FF","#228B22"]},"legend":null}}},
{"data":{"name":"especes"},
 "transform":[{"filter":"datum.nom == 'diptere (larve)'"}],
 "mark":{"type":"text","angle":90,"align":"center","baseline":"top","dy":6,"fontSize":15,"font":"Liberation Sans"},
 "encoding":{
  "x":{"field":"x","type":"quantitative","title":null,"scale":{"domain":[-2.3646,2.2806],"reverse":true,"nice":false,"zero":false}},
  "y":{"field":"y","type":"quantitative","title":null,"scale":{"domain":[-1.1425,3.5082],"nice":false,"zero":false}},
  "text":{"field":"nom","type":"nominal"},
  "color":{"field":"groupe","type":"nominal","scale":{"domain":["A","B"],"range":["#0000FF","#228B22"]},"legend":null}}},
{"data":{"name":"etiquettes"},
 "transform":[{"filter":"datum.x < -0.7 && datum.niveau != 33"}],
 "mark":{"type":"text","angle":270,"align":"center","baseline":"middle","fontSize":17,"font":"Liberation Sans","color":"#FF0000"},
 "encoding":{
  "x":{"field":"x","type":"quantitative","title":null,"scale":{"domain":[-2.3646,2.2806],"reverse":true,"nice":false,"zero":false}},
  "y":{"field":"y","type":"quantitative","title":null,"scale":{"domain":[-1.1425,3.5082],"nice":false,"zero":false}},
  "text":{"field":"niveau","type":"nominal"}}},
{"data":{"name":"etiquettes"},
 "transform":[{"filter":"(datum.niveau == 33 && datum.x < -0.7) || datum.y > 2.5"}],
 "mark":{"type":"text","angle":-55,"align":"center","baseline":"middle","fontSize":17,"font":"Liberation Sans","color":"#FF0000"},
 "encoding":{
  "x":{"field":"x","type":"quantitative","title":null,"scale":{"domain":[-2.3646,2.2806],"reverse":true,"nice":false,"zero":false}},
  "y":{"field":"y","type":"quantitative","title":null,"scale":{"domain":[-1.1425,3.5082],"nice":false,"zero":false}},
  "text":{"field":"niveau","type":"nominal"}}},
{"data":{"name":"etiquettes"},
 "transform":[{"filter":"datum.y > 1 && datum.y < 2.5 && datum.x > -0.7"}],
 "mark":{"type":"text","angle":61,"align":"center","baseline":"middle","fontSize":17,"font":"Liberation Sans","color":"#FF0000"},
 "encoding":{
  "x":{"field":"x","type":"quantitative","title":null,"scale":{"domain":[-2.3646,2.2806],"reverse":true,"nice":false,"zero":false}},
  "y":{"field":"y","type":"quantitative","title":null,"scale":{"domain":[-1.1425,3.5082],"nice":false,"zero":false}},
  "text":{"field":"niveau","type":"nominal"}}},
{"data":{"name":"etiquettes"},
 "transform":[{"filter":"datum.niveau == 28 || datum.niveau == 25"}],
 "mark":{"type":"text","angle":225,"align":"center","baseline":"middle","fontSize":17,"font":"Liberation Sans","color":"#FF0000"},
 "encoding":{
  "x":{"field":"x","type":"quantitative","title":null,"scale":{"domain":[-2.3646,2.2806],"reverse":true,"nice":false,"zero":false}},
  "y":{"field":"y","type":"quantitative","title":null,"scale":{"domain":[-1.1425,3.5082],"nice":false,"zero":false}},
  "text":{"field":"niveau","type":"nominal"}}},
{"data":{"name":"etiquettes"},
 "transform":[{"filter":"datum.y < 1 && datum.x > -0.7 && datum.niveau != 28 && datum.niveau != 25"}],
 "mark":{"type":"text","angle":243,"align":"center","baseline":"middle","fontSize":17,"font":"Liberation Sans","color":"#FF0000"},
 "encoding":{
  "x":{"field":"x","type":"quantitative","title":null,"scale":{"domain":[-2.3646,2.2806],"reverse":true,"nice":false,"zero":false}},
  "y":{"field":"y","type":"quantitative","title":null,"scale":{"domain":[-1.1425,3.5082],"nice":false,"zero":false}},
  "text":{"field":"niveau","type":"nominal"}}},
{"data":{"name":"notes"},
 "transform":[{"filter":"datum.texte == 'Gobie−all data'"}],
 "mark":{"type":"text","angle":270,"align":"center","baseline":"alphabetic","fontSize":24,"font":"Liberation Sans","color":"#000000"},
 "encoding":{
  "x":{"field":"x","type":"quantitative","title":null,"scale":{"domain":[-2.3646,2.2806],"reverse":true,"nice":false,"zero":false}},
  "y":{"field":"y","type":"quantitative","title":null,"scale":{"domain":[-1.1425,3.5082],"nice":false,"zero":false}},
  "text":{"field":"texte","type":"nominal"}}},
{"data":{"name":"notes"},
 "transform":[{"filter":"datum.texte != 'Gobie−all data'"}],
 "mark":{"type":"text","angle":270,"align":"center","baseline":"alphabetic","fontSize":18,"font":"Liberation Sans","color":"#000000"},
 "encoding":{
  "x":{"field":"x","type":"quantitative","title":null,"scale":{"domain":[-2.3646,2.2806],"reverse":true,"nice":false,"zero":false}},
  "y":{"field":"y","type":"quantitative","title":null,"scale":{"domain":[-1.1425,3.5082],"nice":false,"zero":false}},
  "text":{"field":"texte","type":"nominal"}}}
]
}
